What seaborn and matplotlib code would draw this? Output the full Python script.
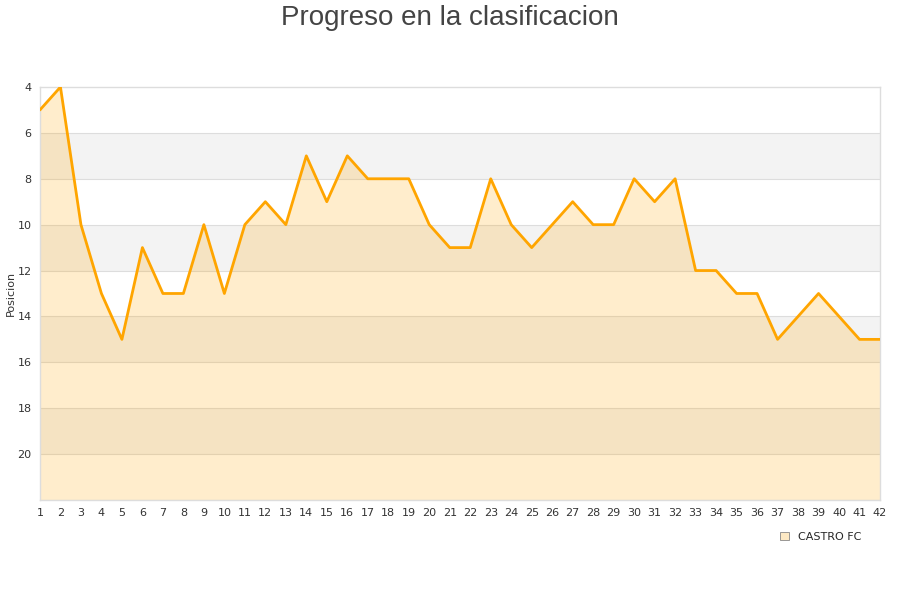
import numpy as np
import pandas as pd
import matplotlib
matplotlib.use('Agg')
import matplotlib.pyplot as plt
from matplotlib.patches import Patch
import seaborn as sns

jornadas = list(range(1, 43))
posiciones = [5, 4, 10, 13, 15, 11, 13, 13, 10, 13,
              10, 9, 10, 7, 9, 7, 8, 8, 8, 10,
              11, 11, 8, 10, 11, 10, 9, 10, 10, 8,
              9, 8, 12, 12, 13, 13, 15, 14, 13, 14,
              15, 15]
equipo = 'CASTRO FC'
y_ticks = [4, 6, 8, 10, 12, 14, 16, 18, 20]

df = pd.DataFrame({'jornada': jornadas, 'posicion': posiciones})

sns.set_style('white')
plt.rcParams['font.family'] = ['DejaVu Sans']

fig = plt.figure(figsize=(9, 6), dpi=100)
ax = fig.add_axes([0.0444, 0.1667, 0.9334, 0.6883])

y_top, y_bottom = 4, 22
# alternating bands
for i, lo in enumerate(range(y_top, y_bottom, 2)):
    if i % 2 == 1:
        ax.axhspan(lo, lo + 2, color='#f3f3f3', zorder=0, lw=0)
for t in y_ticks[1:] + [22]:
    ax.axhline(t, color='#dddddd', lw=0.8, zorder=1)

ax.fill_between(df['jornada'], df['posicion'], y_bottom,
                color='orange', alpha=0.2, lw=0, zorder=2)
sns.lineplot(data=df, x='jornada', y='posicion', ax=ax, color='orange',
             lw=2, zorder=3)

ax.set_xlim(1, 42)
ax.set_ylim(y_bottom, y_top)
ax.set_xticks(jornadas)
ax.set_yticks(y_ticks)
ax.tick_params(axis='both', labelsize=8, colors='#333333', length=0, pad=6)
ax.set_xlabel('')
ax.set_ylabel('Posicion', fontsize=8, color='#333333')
ax.yaxis.set_label_coords(-0.029, 0.5)
for s in ax.spines.values():
    s.set_color('#dddddd')
    s.set_linewidth(1)

fig.suptitle('Progreso en la clasificacion', fontsize=20, color='#444444',
             family='Liberation Sans', y=0.992)

handle = Patch(facecolor='#fde9c4', edgecolor='#888888', lw=0.6)
fig.legend([handle], [equipo], loc='center left',
           bbox_to_anchor=(0.856, 0.105), frameon=False, fontsize=8,
           handlelength=0.8, handleheight=0.8, handletextpad=0.8)

fig.savefig('out.png', dpi=100)
